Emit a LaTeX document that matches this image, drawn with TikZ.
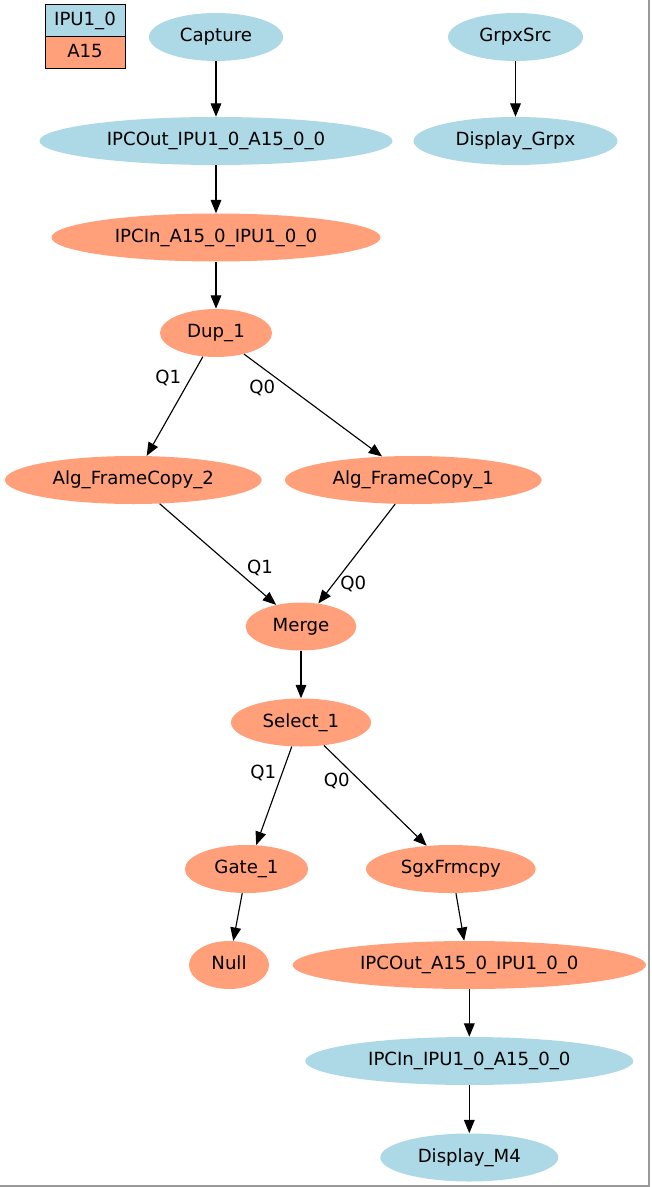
\documentclass[tikz,border=0pt]{standalone}
\usepackage{fontspec}
\setmainfont{DejaVu Sans}
\usetikzlibrary{shapes.geometric,arrows.meta}
\definecolor{ipublue}{HTML}{ADD8E6}
\definecolor{afsalmon}{HTML}{FFA07A}
\begin{document}
\begin{tikzpicture}[x=0.75pt,y=-0.75pt,
        font=\fontsize{13.6}{16}\selectfont,
        every node/.style={text height=0.73em,text depth=0pt},
        link/.style={line width=0.85pt,-{Triangle[length=10pt,width=8pt]}},
        ipu/.style={ellipse,fill=ipublue,inner sep=0pt,minimum height=36pt},
        afs/.style={ellipse,fill=afsalmon,inner sep=0pt,minimum height=36pt},
        cell/.style={draw,line width=0.75pt,minimum width=60pt,minimum height=24pt,inner sep=0pt}]
        \useasboundingbox (0,0) rectangle (651,1187);
        \draw[black!40,line width=1.2pt] (0,1186) -- (649,1186) -- (649,0);

        \node[cell,fill=ipublue] (legipu) at (85,21) {IPU1\_0};
        \node[cell,fill=afsalmon] (legafs) at (85,53) {A15};

        \node[ipu,minimum width=100.5pt] (capture) at (216,37) {Capture};
        \node[ipu,minimum width=264.75pt] (ipcoutipu) at (216,141) {IPCOut\_IPU1\_0\_A15\_0\_0};
        \node[ipu,minimum width=101.25pt] (grpxsrc) at (515.5,37) {GrpxSrc};
        \node[ipu,minimum width=153pt] (dispgrpx) at (515.5,141) {Display\_Grpx};
        \node[afs,minimum width=246.75pt] (ipcina) at (216,237.5) {IPCIn\_A15\_0\_IPU1\_0\_0};
        \node[afs,minimum width=84pt] (dup) at (216,333) {Dup\_1};
        \node[afs,minimum width=192.5pt] (algtwo) at (133.3,480) {Alg\_FrameCopy\_2};
        \node[afs,minimum width=192.5pt] (algone) at (413.3,480) {Alg\_FrameCopy\_1};
        \node[afs,minimum width=83pt] (merge) at (301,626.5) {Merge};
        \node[afs,minimum width=105pt] (select) at (301,722.5) {Select\_1};
        \node[afs,minimum width=92.5pt] (gate) at (246.5,869) {Gate\_1};
        \node[afs,minimum width=127.2pt] (sgx) at (450.8,869) {SgxFrmcpy};
        \node[afs,minimum width=60pt] (null) at (229,965) {Null};
        \node[afs,minimum width=265pt] (ipcouta) at (469.3,965) {IPCOut\_A15\_0\_IPU1\_0\_0};
        \node[ipu,minimum width=246pt] (ipcinipu) at (469.3,1061) {IPCIn\_IPU1\_0\_A15\_0\_0};
        \node[ipu,minimum width=133.5pt] (dispmfour) at (469.3,1157.5) {Display\_M4};

        \draw[link] (capture) -- (ipcoutipu);
        \draw[link] (grpxsrc) -- (dispgrpx);
        \draw[link] (ipcoutipu) -- (ipcina);
        \draw[link] (ipcina) -- (dup);
        \draw[link] (dup.241) -- (algtwo.61);
        \draw[link] (dup.323) -- (algone.143);
        \draw[link] (algtwo.318) -- (merge.139);
        \draw[link] (algone.233) -- (merge.53);
        \draw[link] (merge) -- (select);
        \draw[link] (select.249) -- (gate.68);
        \draw[link] (select.315) -- (sgx.136);
        \draw[link] (gate.260) -- (null.80);
        \draw[link] (sgx.282) -- (ipcouta.102);
        \draw[link] (ipcouta) -- (ipcinipu);
        \draw[link] (ipcinipu) -- (dispmfour);

        \node (qdupone) at (168.3,379) {Q1};
        \node (qdupzero) at (262.3,389) {Q0};
        \node (qmergeone) at (260,568.3) {Q1};
        \node (qmergezero) at (353.3,584.3) {Q0};
        \node (qselone) at (263.3,773.3) {Q1};
        \node (qselzero) at (336.7,781.7) {Q0};
    \end{tikzpicture}
\end{document}
